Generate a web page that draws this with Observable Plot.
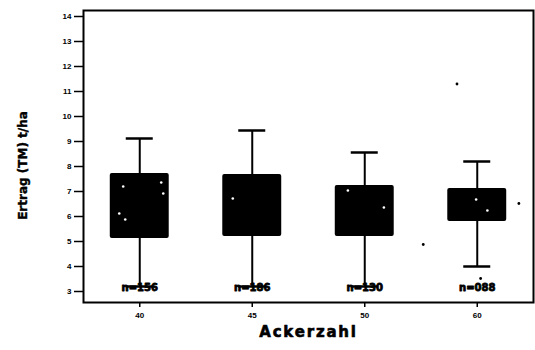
<!DOCTYPE html>
<html>
<head>
<meta charset="utf-8">
<script src="https://cdn.jsdelivr.net/npm/d3@7"></script>
<script src="https://cdn.jsdelivr.net/npm/@observablehq/plot@0.6"></script>
<style>
  html, body { margin: 0; padding: 0; background: #fff; }
</style>
</head>
<body>
<div id="chart"></div>
<script>
// Categories (Ackerzahl) and box statistics
const categories = ["40", "45", "50", "60"];
const positions = [1, 2, 3, 4];
const q1 = [5.12, 5.2, 5.2, 5.8];
const q3 = [7.72, 7.68, 7.24, 7.12];
const whiskerLow = [3.2, 3.2, 3.2, 4.0];
const whiskerHigh = [9.12, 9.44, 8.56, 8.2];
const nLabels = ["n=156", "n=186", "n=130", "n=088"];

// Outliers (position on category axis, value)
const outlierPos = [3.52, 3.82, 4.37, 4.03];
const outlierVal = [4.88, 11.3, 6.52, 3.52];

// Light points visible inside the boxes
const innerPos = [0.853, 1.191, 1.209, 0.818, 0.871, 1.827, 2.85, 3.17, 3.99, 4.09];
const innerVal = [7.2, 7.36, 6.92, 6.12, 5.88, 6.72, 7.04, 6.36, 6.68, 6.24];

const yTicks = [3, 4, 5, 6, 7, 8, 9, 10, 11, 12, 13, 14];
const yTitle = "Ertrag (TM) t/ha";
const xTitle = "Ackerzahl";

const boxes = positions.map((p, i) => ({
  pos: p, q1: q1[i], q3: q3[i], lo: whiskerLow[i], hi: whiskerHigh[i], n: nLabels[i]
}));
const outliers = outlierPos.map((p, i) => ({pos: p, v: outlierVal[i]}));
const inner = innerPos.map((p, i) => ({pos: p, v: innerVal[i]}));

const boxHalf = 0.262;
const capHalf = 0.12;

const chart = Plot.plot({
  width: 535,
  height: 350,
  marginLeft: 83,
  marginRight: 2,
  marginTop: 10,
  marginBottom: 48,
  style: {fontFamily: "Liberation Sans, Arial, sans-serif", fontWeight: "bold", fontSize: "8px", background: "#fff", color: "#000"},
  x: {type: "linear", domain: [0.5, 4.5]},
  y: {domain: [2.56, 14.24]},
  marks: [
    Plot.axisY({ticks: yTicks, tickSize: 9, tickPadding: 3, tickFormat: d => String(d),
      strokeWidth: 1.5, fontSize: 8, fontWeight: "bold", fill: "#000", label: null}),
    Plot.axisX({ticks: positions, tickSize: 5, tickPadding: 5, strokeWidth: 1.5,
      tickFormat: d => categories[d - 1], fontSize: 8, fontWeight: "bold", fill: "#000",
      label: null}),
    Plot.frame({stroke: "#000", strokeWidth: 2}),
    // whiskers
    Plot.ruleX(boxes, {x: "pos", y1: "lo", y2: "hi", stroke: "#000", strokeWidth: 2}),
    // caps
    Plot.ruleY(boxes, {y: "hi", x1: d => d.pos - capHalf, x2: d => d.pos + capHalf, stroke: "#000", strokeWidth: 2.5}),
    Plot.ruleY(boxes, {y: "lo", x1: d => d.pos - capHalf, x2: d => d.pos + capHalf, stroke: "#000", strokeWidth: 2.5}),
    // boxes
    Plot.rect(boxes, {x1: d => d.pos - boxHalf, x2: d => d.pos + boxHalf, y1: "q1", y2: "q3", fill: "#000", rx: 2}),
    // inner light points
    Plot.dot(inner, {x: "pos", y: "v", r: 1.3, fill: "#fff", stroke: "none"}),
    // outliers
    Plot.dot(outliers, {x: "pos", y: "v", r: 1.4, fill: "#000", stroke: "none"}),
    // n labels
    Plot.text(boxes, {x: "pos", y: 3.16, text: "n", fontSize: 10, fontWeight: "bold",
      fontFamily: "DejaVu Sans, sans-serif", fill: "#000", stroke: "#000", strokeWidth: 0.8}),
    // y-axis title
    Plot.text([yTitle], {frameAnchor: "left", textAnchor: "middle", dx: -60, dy: 9, rotate: -90, text: d => d,
      fontSize: 12, fontWeight: "bold", fontFamily: "DejaVu Sans, sans-serif",
      fill: "#000", stroke: "#000", strokeWidth: 0.4}),
    // x-axis title
    Plot.text([xTitle], {frameAnchor: "bottom", dy: 34, text: d => d, fontSize: 15, fontWeight: "bold",
      fontFamily: "DejaVu Sans, sans-serif", fill: "#000", stroke: "#000", strokeWidth: 0.6})
  ]
});
// widen the axis title letters like the reference
chart.querySelectorAll("text").forEach(t => {
  if (t.textContent === xTitle) t.setAttribute("letter-spacing", "1.8");
});
document.getElementById("chart").appendChild(chart);
</script>
</body>
</html>
